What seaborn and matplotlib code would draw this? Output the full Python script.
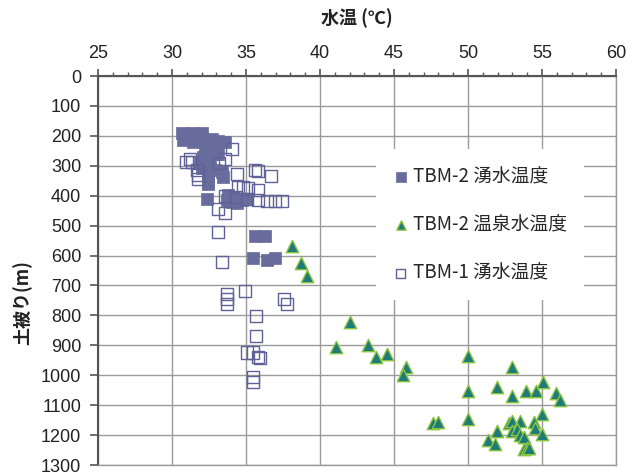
import matplotlib
matplotlib.use("Agg")
import matplotlib.pyplot as plt
import seaborn as sns
import pandas as pd
from matplotlib.ticker import MultipleLocator

sns.set_style("white")
plt.rcParams['font.family'] = ['Noto Sans CJK JP', 'DejaVu Sans']

# TBM-2 湧水温度 (filled squares)
tbm2_spring_x = [30.65, 30.77, 31.33, 31.67, 32.0, 32.34, 32.68, 33.13, 33.58, 31.44,
                 32.23, 32.68, 33.13, 32.1, 31.9, 32.45, 32.0, 32.57, 32.9, 33.36,
                 33.47, 32.45, 32.4, 32.34, 33.8, 34.14, 34.48, 34.03, 34.37, 34.7,
                 33.7, 35.0, 32.23, 32.45, 33.0, 35.6, 36.3, 35.5, 36.4, 36.96]
tbm2_spring_y = [192, 214, 189, 203, 192, 214, 209, 218, 222, 220,
                 242, 254, 259, 270, 287, 281, 309, 298, 315, 320,
                 337, 332, 360, 412, 399, 404, 410, 421, 426, 415,
                 415, 412, 292, 354, 259, 536, 536, 607, 614, 607]

# TBM-2 温泉水温度 (triangles)
tbm2_hot_x = [38.09, 38.7, 39.1, 42.0, 41.08, 43.26, 43.78, 44.5, 45.8, 45.6,
              50.0, 53.0, 50.0, 51.96, 53.0, 53.95, 54.6, 55.1, 55.95, 56.2,
              47.66, 48.0, 50.0, 51.96, 51.37, 51.8, 52.8, 53.0, 53.5, 53.0,
              53.3, 53.5, 53.8, 54.46, 54.5, 54.97, 54.97, 53.8, 54.0, 54.1]
tbm2_hot_y = [569, 625, 667, 823, 904, 899, 940, 929, 974, 998,
              935, 971, 1052, 1041, 1069, 1052, 1052, 1024, 1058, 1083,
              1158, 1155, 1147, 1186, 1217, 1231, 1158, 1152, 1152, 1186,
              1180, 1199, 1206, 1155, 1175, 1130, 1195, 1247, 1244, 1242]

# TBM-1 湧水温度 (open squares)
tbm1_spring_x = [34.03, 31.2, 30.98, 31.33, 31.67, 31.78, 31.78, 33.58, 33.2, 34.37,
                 35.6, 35.83, 36.7, 34.48, 34.82, 35.16, 35.83, 33.6, 34.26, 35.1,
                 35.8, 36.45, 36.96, 37.4, 33.13, 33.58, 33.1, 33.36, 33.7, 33.7,
                 33.7, 34.9, 37.6, 37.75, 35.7, 35.7, 35.05, 35.45, 35.83, 35.95,
                 35.5, 35.5]
tbm1_spring_y = [245, 276, 287, 287, 315, 332, 343, 276, 291, 329,
                 315, 318, 334, 371, 371, 376, 382, 402, 405, 410,
                 415, 418, 418, 418, 443, 457, 521, 622, 728, 745,
                 762, 720, 745, 762, 801, 868, 924, 924, 938, 942,
                 1005, 1021]

series_labels = ["TBM-2 湧水温度", "TBM-2 温泉水温度", "TBM-1 湧水温度"]
x_ticks = [25, 30, 35, 40, 45, 50, 55, 60]
y_ticks = list(range(0, 1400, 100))

fig = plt.figure(figsize=(6.37, 4.73), dpi=100)
ax = fig.add_axes([98/637, 1 - 465/473, (616-98)/637, (465-76)/473])

grid_c = '#9a9a9a'
ax.set_axisbelow(True)
ax.grid(True, color=grid_c, lw=1.0)

df1 = pd.DataFrame({'x': tbm2_spring_x, 'y': tbm2_spring_y})
df2 = pd.DataFrame({'x': tbm2_hot_x, 'y': tbm2_hot_y})
df3 = pd.DataFrame({'x': tbm1_spring_x, 'y': tbm1_spring_y})

sns.scatterplot(data=df1, x='x', y='y', ax=ax, marker='s', s=75,
                color='#686c9c', edgecolor='#686c9c', linewidth=0.5,
                label=series_labels[0], zorder=3)
sns.scatterplot(data=df2, x='x', y='y', ax=ax, marker='^', s=80,
                color='#1f7a7a', edgecolor='#8cc63f', linewidth=1.0,
                label=series_labels[1], zorder=3)
sns.scatterplot(data=df3, x='x', y='y', ax=ax, marker='s', s=75,
                facecolor='none', edgecolor='#5e6298', linewidth=1.0,
                label=series_labels[2], zorder=3)

ax.set_xlim(25, 60)
ax.set_ylim(1300, 0)
ax.xaxis.tick_top()
ax.set_xticks(x_ticks)
ax.xaxis.set_minor_locator(MultipleLocator(1))
ax.set_yticks(y_ticks)
ax.set_xlabel('')
ax.set_ylabel('')

tick_font = ['Liberation Sans Narrow', 'Liberation Sans', 'DejaVu Sans']
for lab in ax.get_xticklabels() + ax.get_yticklabels():
    lab.set_family(tick_font)
    lab.set_fontsize(13)
    lab.set_color('#222222')

ax.tick_params(axis='x', which='major', top=True, bottom=False, direction='out',
               length=5, width=1.2, color='#555555', pad=5)
ax.tick_params(axis='x', which='minor', top=True, bottom=False, direction='out',
               length=3, width=1.0, color='#555555')
ax.tick_params(axis='y', which='major', left=True, direction='out',
               length=6, width=1.2, color='#555555', pad=6)

for side in ['top', 'left']:
    ax.spines[side].set_color('#555555')
    ax.spines[side].set_linewidth(1.5)
for side in ['right', 'bottom']:
    ax.spines[side].set_color(grid_c)
    ax.spines[side].set_linewidth(1.0)

leg = ax.legend(loc='upper left', bbox_to_anchor=(0.537, 0.812), frameon=True,
                facecolor='white', edgecolor='white', framealpha=1.0,
                fontsize=13.5, labelspacing=1.45, handlelength=0.8,
                handletextpad=0.25, borderpad=0.9, borderaxespad=0,
                markerscale=0.75)
leg.get_frame().set_linewidth(0)

fig.text(357/637, 1 - 18/473, '水温 (℃)', ha='center', va='center',
         fontsize=13, fontweight='bold', color='#222222')
fig.text(22/637, 1 - 303/473, '土被り(m)', ha='center', va='center',
         rotation=90, fontsize=13, fontweight='bold', color='#222222')

fig.savefig('out.png', dpi=100)
